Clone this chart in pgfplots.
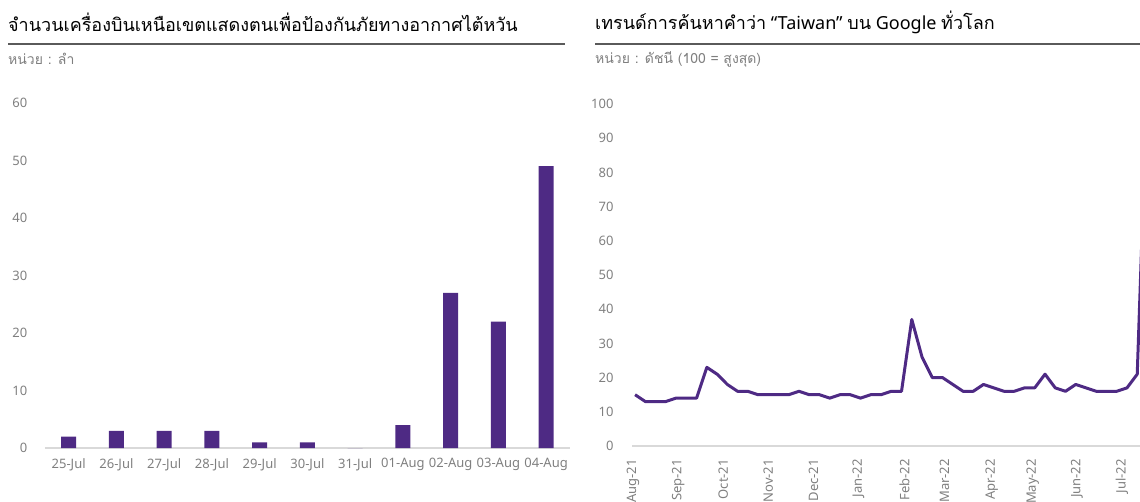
\documentclass[border=0pt]{standalone}
\usepackage{pgfplots}
\pgfplotsset{compat=1.18}
\usepackage{fontspec}
\setmainfont{Noto Sans}
\newfontfamily\thai[Script=Thai]{Loma}
\definecolor{purp}{HTML}{4E2A84}
\definecolor{tickgray}{HTML}{7F7F7F}
\definecolor{axisgray}{HTML}{D9D9D9}
\definecolor{rulegray}{HTML}{5A5A5A}
\begin{document}
\begin{tikzpicture}
\useasboundingbox (0pt,0pt) rectangle (1140pt,-502pt);
% titles
\node[anchor=west,inner sep=0] at (8pt,-22pt) {\fontsize{18}{22}\selectfont\thai จำนวนเครื่องบินเหนือเขตแสดงตนเพื่อป้องกันภัยทางอากาศไต้หวัน};
\draw[line width=2pt,rulegray] (8pt,-44pt) -- (565pt,-44pt);
\node[anchor=west,inner sep=0,text=tickgray] at (8pt,-59pt) {\fontsize{14}{16}\selectfont\thai หน่วย : ลำ};
\node[anchor=west,inner sep=0] at (595pt,-22pt) {\fontsize{18}{22}\selectfont{\thai เทรนด์การค้นหาคำว่า} “Taiwan” {\thai บน} Google {\thai ทั่วโลก}};
\draw[line width=2pt,rulegray] (595pt,-44pt) -- (1140pt,-44pt);
\node[anchor=west,inner sep=0,text=tickgray] at (595pt,-59pt) {\fontsize{14}{16}\selectfont\thai หน่วย : ดัชนี (100 = สูงสุด)};

\pgfplotsset{
  mystyle/.style={
    scale only axis,
    axis x line*=bottom, axis y line*=left,
    x axis line style={draw=axisgray,line width=1.2pt,-},
    y axis line style={draw=none},
    tick style={draw=none},
    major tick length=0pt,
    tick label style={font=\fontsize{13}{15}\selectfont,text=tickgray},
    /pgf/number format/assume math mode=true,
  }
}

\begin{axis}[mystyle,
  at={(44.8pt,-448pt)}, anchor=south west,
  width=525.2pt, height=345pt,
  xmin=-0.5, xmax=10.5, ymin=0, ymax=60,
  ytick={0,10,20,30,40,50,60},
  xtick={0,1,2,3,4,5,6,7,8,9,10},
  xticklabels={25-Jul,26-Jul,27-Jul,28-Jul,29-Jul,30-Jul,31-Jul,01-Aug,02-Aug,03-Aug,04-Aug},
  yticklabel style={xshift=-14pt},
  xticklabel style={yshift=-7pt},
  clip=false,
]
\addplot[ybar, bar width=15pt, fill=purp, draw=none] coordinates {
(0,2) (1,3) (2,3) (3,3) (4,1) (5,1) (6,0) (7,4) (8,27) (9,22) (10,49)
};
\end{axis}

\begin{axis}[mystyle,
  at={(632pt,-446pt)}, anchor=south west,
  width=508pt, height=342pt,
  xmin=-0.3, xmax=49.27, ymin=0, ymax=100,
  ytick={0,10,20,30,40,50,60,70,80,90,100},
  xtick={-0.2,4.2,8.6,13.0,17.4,21.8,26.3,30.2,34.8,38.8,43.1,47.5},
  xticklabels={Aug-21,Sep-21,Oct-21,Nov-21,Dec-21,Jan-22,Feb-22,Mar-22,Apr-22,May-22,Jun-22,Jul-22},
  yticklabel style={xshift=-15pt},
  xticklabel style={rotate=90,anchor=east,inner xsep=13pt},
]
\addplot[purp, line width=3pt, line join=round, mark=none] coordinates {
(0,15) (1,13) (2,13) (3,13) (4,14) (5,14) (6,14) (7,23) (8,21) (9,18)
(10,16) (11,16) (12,15) (13,15) (14,15) (15,15) (16,16) (17,15) (18,15) (19,14)
(20,15) (21,15) (22,14) (23,15) (24,15) (25,16) (26,16) (27,37) (28,26) (29,20)
(30,20) (31,18) (32,16) (33,16) (34,18) (35,17) (36,16) (37,16) (38,17) (39,17)
(40,21) (41,17) (42,16) (43,18) (44,17) (45,16) (46,16) (47,16) (48,17) (49,21)
(49.9,100)
};
\end{axis}
\end{tikzpicture}
\end{document}
